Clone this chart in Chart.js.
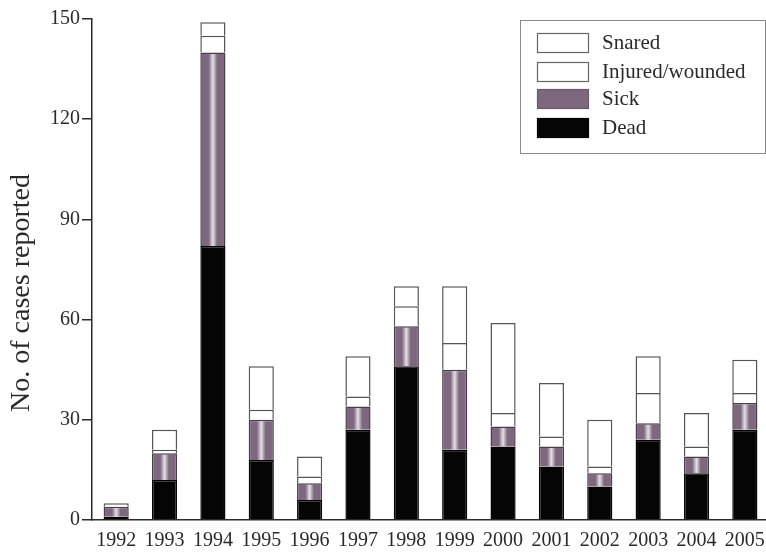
<!DOCTYPE html>
<html>
<head>
<meta charset="utf-8">
<script src="https://cdn.jsdelivr.net/npm/chart.js@4.4.1/dist/chart.umd.min.js"></script>
<style>
  html, body { margin: 0; padding: 0; background: #ffffff; overflow: hidden; }
  #wrap { width: 766px; height: 554px; position: relative; overflow: hidden; }
</style>
</head>
<body>
<div id="wrap"><canvas id="c" width="774" height="554"></canvas></div>
<script>
const years = ['1992','1993','1994','1995','1996','1997','1998','1999','2000','2001','2002','2003','2004','2005'];
const dead    = [1, 12, 82, 18, 6, 27, 46, 21, 22, 16, 10, 24, 14, 27];
const sick    = [3,  8, 58, 12, 5,  7, 12, 24,  6,  6,  4,  5,  5,  8];
const injured = [0,  1,  5,  3, 2,  3,  6,  8,  4,  3,  2,  9,  3,  3];
const snared  = [1,  6,  4, 13, 6, 12,  6, 17, 27, 16, 14, 11, 10, 10];
const seriesNames = ['Dead', 'Sick', 'Injured/wounded', 'Snared'];
const yTicks = [0, 30, 60, 90, 120, 150];
const yTitle = 'No. of cases reported';

const FONT = "'Liberation Serif', 'Times New Roman', serif";
const INK = '#2a2a2a';
const PURPLE = '#7d687e';

const yTitlePlugin = {
  id: 'yTitle',
  afterDraw(chart) {
    const ctx = chart.ctx;
    ctx.save();
    ctx.translate(22, 293);
    ctx.rotate(-Math.PI / 2);
    ctx.font = "28px " + FONT;
    ctx.fillStyle = INK;
    ctx.textAlign = 'center';
    ctx.textBaseline = 'middle';
    ctx.fillText(yTitle, 0, 0);
    ctx.restore();
  }
};

const boxLegend = {
  id: 'boxLegend',
  afterDraw(chart) {
    const ctx = chart.ctx;
    const bx = 520.5, by = 20.5, bw = 245, bh = 133;
    ctx.save();
    ctx.fillStyle = '#ffffff';
    ctx.fillRect(bx, by, bw, bh);
    ctx.strokeStyle = '#8a8a8a';
    ctx.lineWidth = 1;
    ctx.strokeRect(bx, by, bw, bh);
    const ds = chart.data.datasets.slice().reverse();
    const rowsY = [33, 62, 89, 118];
    ds.forEach((d, i) => {
      const y = rowsY[i];
      ctx.fillStyle = d.legendFill;
      ctx.fillRect(537, y, 52, 20);
      ctx.strokeStyle = d.legendBorder;
      ctx.lineWidth = 1.2;
      ctx.strokeRect(537.5, y + 0.5, 51, 19);
      ctx.fillStyle = INK;
      ctx.font = "21px " + FONT;
      ctx.textAlign = 'left';
      ctx.textBaseline = 'middle';
      ctx.fillText(d.label, 602, y + 10);
    });
    ctx.restore();
  }
};

function sickFill(context) {
  const chart = context.chart;
  const xs = chart.scales && chart.scales.x;
  if (!xs || !chart.chartArea) return PURPLE;
  const cx = xs.getPixelForValue(context.dataIndex);
  const g = chart.ctx.createLinearGradient(cx - 12, 0, cx + 12, 0);
  g.addColorStop(0, PURPLE);
  g.addColorStop(0.32, PURPLE);
  g.addColorStop(0.5, '#e6dfe6');
  g.addColorStop(0.68, PURPLE);
  g.addColorStop(1, PURPLE);
  return g;
}

const styles = [
  { bg: '#050505', border: '#050505', lb: '#050505', lf: '#050505' },
  { bg: sickFill, border: '#4a3d4a', lb: '#6a586b', lf: PURPLE },
  { bg: '#ffffff', border: '#555555', lb: '#666666', lf: '#ffffff' },
  { bg: '#ffffff', border: '#555555', lb: '#666666', lf: '#ffffff' }
];
const values = [dead, sick, injured, snared];

new Chart(document.getElementById('c'), {
  type: 'bar',
  data: {
    labels: years,
    datasets: values.map((v, i) => ({
      label: seriesNames[i],
      data: v,
      backgroundColor: styles[i].bg,
      borderColor: styles[i].border,
      legendBorder: styles[i].lb,
      legendFill: styles[i].lf,
      borderWidth: 1.5,
      borderSkipped: 'start',
      barPercentage: 0.52,
      categoryPercentage: 1.0
    }))
  },
  options: {
    responsive: false,
    animation: false,
    events: [],
    layout: { padding: { left: 48, right: 4, top: 19, bottom: -8 } },
    plugins: {
      legend: { display: false },
      tooltip: { enabled: false },
      title: { display: false }
    },
    scales: {
      x: {
        stacked: true,
        offset: true,
        grid: { display: true, drawOnChartArea: false, drawTicks: false },
        border: { display: true, color: INK, width: 1.5 },
        ticks: { color: INK, font: { family: FONT, size: 20 }, padding: 9, maxRotation: 0, autoSkip: false }
      },
      y: {
        stacked: true,
        min: 0,
        max: 150,
        afterBuildTicks(scale) { scale.ticks = yTicks.map(v => ({ value: v })); },
        grid: { display: true, drawOnChartArea: false, drawTicks: true, tickLength: 10, color: INK, lineWidth: 1.5 },
        border: { display: true, color: INK, width: 1.5 },
        ticks: { color: INK, font: { family: FONT, size: 20 }, padding: 2 }
      }
    }
  },
  plugins: [yTitlePlugin, boxLegend]
});
</script>
</body>
</html>
